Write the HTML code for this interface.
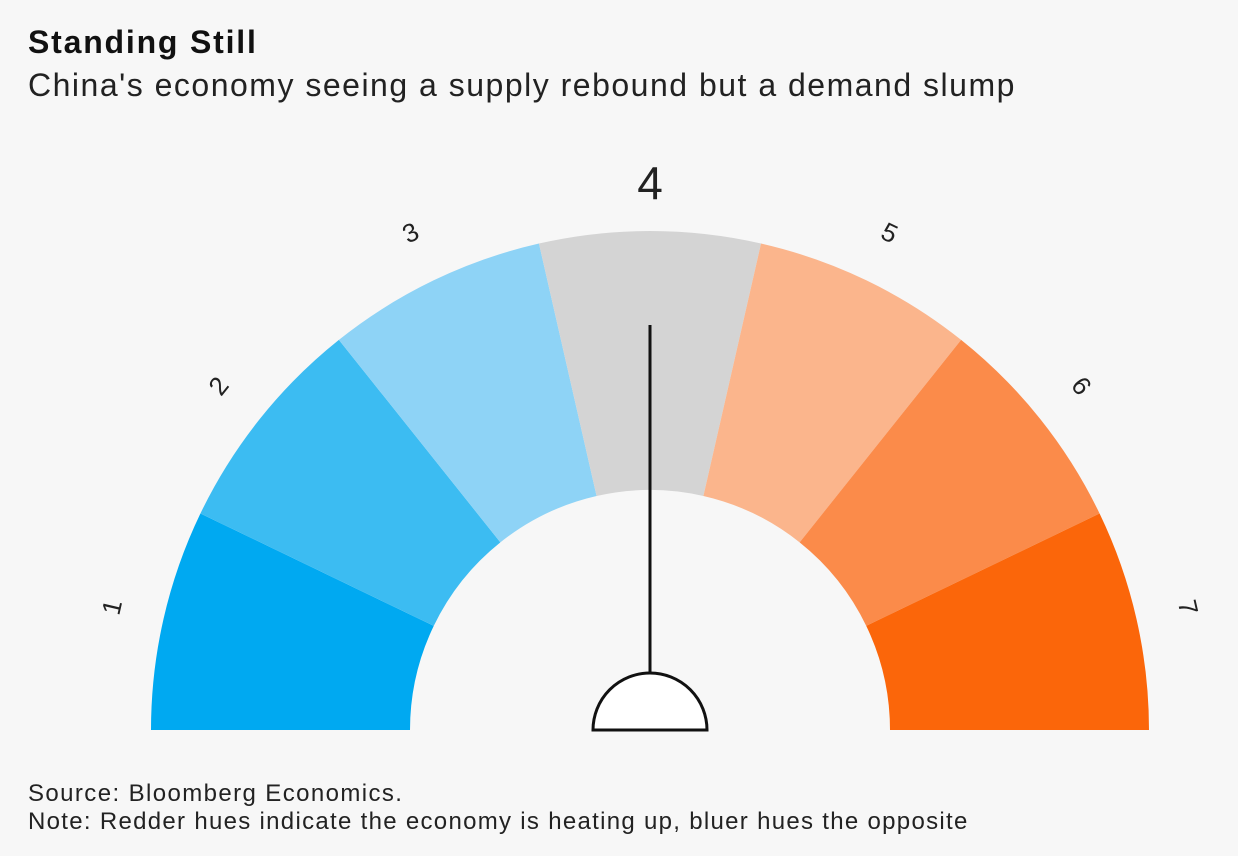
<!DOCTYPE html>
<html><head><meta charset="utf-8"><style>
body{margin:0;width:1238px;height:856px;background:#f7f7f7;font-family:"Liberation Sans",sans-serif;overflow:hidden;position:relative}
.t{position:absolute;left:28px;color:#111;white-space:nowrap}
</style></head><body>
<div class="t" style="top:24px;font-size:32px;font-weight:bold;letter-spacing:1.8px">Standing Still</div>
<div class="t" style="top:67px;font-size:32px;letter-spacing:1.5px;color:#222">China's economy seeing a supply rebound but a demand slump</div>
<svg id="g" width="1238" height="856" style="position:absolute;left:0;top:0"></svg>
<div class="t" style="top:780px;font-size:24px;letter-spacing:1.4px;color:#222">Source: Bloomberg Economics.</div>
<div class="t" style="top:808px;font-size:24px;letter-spacing:1.3px;color:#222">Note: Redder hues indicate the economy is heating up, bluer hues the opposite</div>
<script>
const categories=[1,2,3,4,5,6,7];
const colors=["#00a9f1","#3cbcf2","#8ed3f6","#d4d4d4","#fbb58c","#fb8b4a","#fb660a"];
const value=4;
const cx=650,cy=730,ro=499,ri=240,rl=552;
const svg=document.getElementById('g');
const NS='http://www.w3.org/2000/svg';
const n=categories.length;
function ang(v){return Math.PI*(1-(v-0.5)/n);}
function pt(a,r){return [cx+r*Math.cos(a),cy-r*Math.sin(a)];}
categories.forEach((c,i)=>{
  const a0=ang(c-0.5),a1=ang(c+0.5);
  const p1=pt(a0,ro),p2=pt(a1,ro),p3=pt(a1,ri),p4=pt(a0,ri);
  const p=document.createElementNS(NS,'path');
  p.setAttribute('d',`M${p1}A${ro},${ro} 0 0 1 ${p2}L${p3}A${ri},${ri} 0 0 0 ${p4}Z`);
  p.setAttribute('fill',colors[i]);
  
  
  svg.appendChild(p);
  const am=ang(c);const isV=c===value;
  const lp=pt(am,isV?rl-5:rl);
  const t=document.createElementNS(NS,'text');
  t.setAttribute('x',lp[0]);t.setAttribute('y',lp[1]);
  t.setAttribute('text-anchor','middle');t.setAttribute('dominant-baseline','central');
  t.setAttribute('font-size',isV?46:26);
  t.setAttribute('fill','#222');
  t.setAttribute('transform',`rotate(${90-am*180/Math.PI} ${lp[0]} ${lp[1]})`);
  t.textContent=c;
  
  
  svg.appendChild(t);
});
const na=ang(value);
const ne=pt(na,405),ns=pt(na,55);
const line=document.createElementNS(NS,'line');
line.setAttribute('x1',ns[0]);line.setAttribute('y1',ns[1]);line.setAttribute('x2',ne[0]);line.setAttribute('y2',ne[1]);
line.setAttribute('stroke','#111');line.setAttribute('stroke-width','3');


svg.appendChild(line);
const hub=document.createElementNS(NS,'path');
hub.setAttribute('d',`M${cx-57},${cy}A57,57 0 0 1 ${cx+57},${cy}Z`);
hub.setAttribute('fill','#fff');hub.setAttribute('stroke','#111');hub.setAttribute('stroke-width','3');


svg.appendChild(hub);
</script>
</body></html>
